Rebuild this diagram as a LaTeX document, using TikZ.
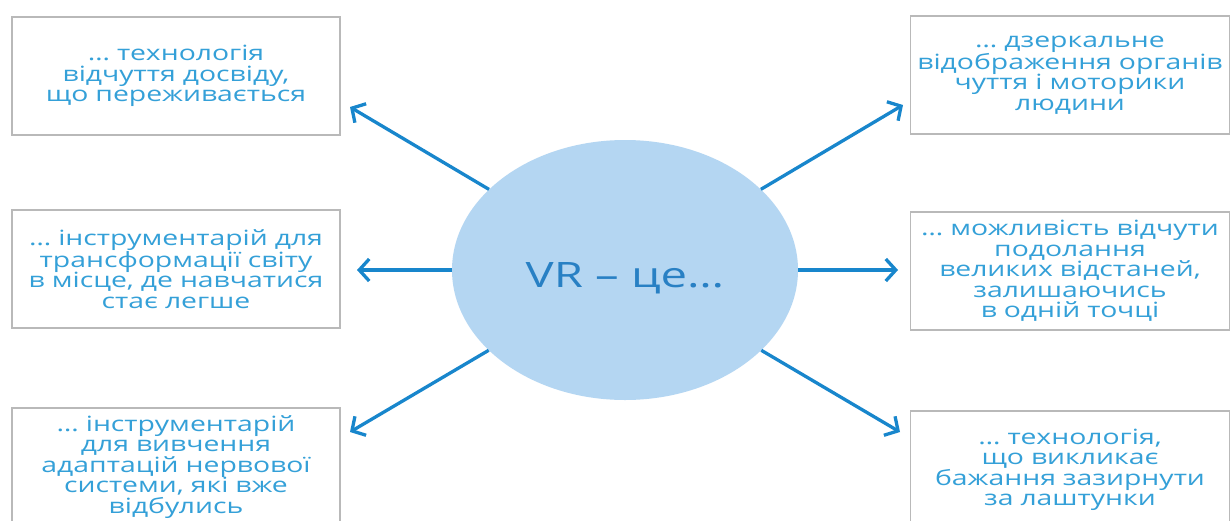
\documentclass[tikz,border=0pt]{standalone}
\usepackage{fontspec}
\setmainfont{Open Sans}[FakeStretch=1.35]
\usepackage{tikz}
\usetikzlibrary{arrows.meta, shapes.geometric, positioning}
\definecolor{vrline}{RGB}{24,134,204}
\definecolor{vrfill}{RGB}{180,214,242}
\definecolor{vrtext}{RGB}{52,160,216}
\definecolor{vrmid}{RGB}{40,128,196}
\definecolor{boxline}{RGB}{185,185,185}
\tikzset{
    vrbox/.style={draw=boxline, line width=1.5pt, rectangle, inner sep=0pt,
        minimum width=#1, minimum height=118pt, text width=#1-4pt, align=center,
        text=vrtext, font=\fontsize{21}{20.5}\selectfont},
    vrbox/.default={328pt},
    vrarrow/.style={draw=vrline, line width=3.3pt,
        -{Straight Barb[length=10pt, width=22pt, line width=3.3pt]}}
}

\begin{document}
\begin{tikzpicture}[x=1pt, y=-1pt]
    \clip (0,0) rectangle (1232,520);
    \fill[white] (0,0) rectangle (1232,520);
    % centre
    \node[ellipse, fill=vrfill, minimum width=346pt, minimum height=260pt, inner sep=0pt] (vr) at (625,270) {};
    \node[text=vrmid, font=\fontsize{35}{38}\selectfont] (vrlbl) at ([yshift=-8pt]vr.center) {VR -- це…};
    % left column
    \node[vrbox] (b1) at (176,76) {… технологія\\ відчуття досвіду,\\ що переживається};
    \node[vrbox] (b2) at (176,269) {… інструментарій для\\ трансформації світу\\ в місце, де навчатися\\ стає легше};
    \node[vrbox] (b3) at (176,467) {… інструментарій\\ для вивчення\\ адаптацій нервової\\ системи, які вже\\ відбулись};
    % right column
    \node[vrbox=319pt] (b4) at (1070,75) {… дзеркальне\\ відображення органів\\ чуття і моторики\\ людини};
    \node[vrbox=319pt] (b5) at (1070,271) {… можливість відчути\\ подолання\\ великих відстаней,\\ залишаючись\\ в одній точці};
    \node[vrbox=319pt] (b6) at (1070,470) {… технологія,\\ що викликає\\ бажання зазирнути\\ за лаштунки};
    % arrow tips
    \coordinate (t1) at (350,107);
    \coordinate (t2) at (357,270);
    \coordinate (t3) at (350,432);
    \coordinate (t4) at (903,105);
    \coordinate (t5) at (898,270);
    \coordinate (t6) at (900,432);
    \foreach \t in {t1,t2,t3,t4,t5,t6}
        \draw[vrarrow] (vr) -- (\t);
\end{tikzpicture}
\end{document}
